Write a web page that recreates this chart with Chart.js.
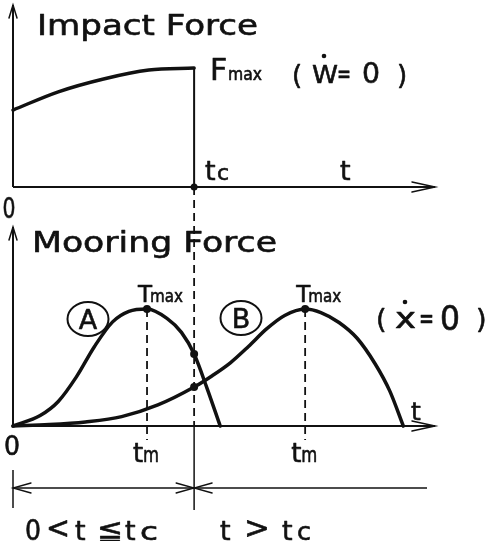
<!DOCTYPE html>
<html>
<head>
<meta charset="utf-8">
<style>
  html, body { margin: 0; padding: 0; background: #fff; }
  canvas { display: block; }
</style>
<script src="https://cdn.jsdelivr.net/npm/chart.js@4.4.1/dist/chart.umd.min.js"></script>
</head>
<body>
<canvas id="c" width="489" height="541"></canvas>
<script>
// Time axis: t = 0 .. T_END, contact ends at TC
const TC = 1.0;
const T_END = 2.33;

// Impact force during contact (normalised by Fmax)
const impactT = [0, 0.25, 0.5, 0.75, 1.0];
const impactF = [0.647, 0.80, 0.908, 0.983, 1.0];

// Mooring force, case A: peak reached before tc (normalised by Tmax)
const tmA = 0.74;
const tA = [0, 0.15, 0.25, 0.35, 0.45, 0.55, 0.64, 0.74, 0.85, 0.93, 1.0, 1.072, 1.144];
const forceA = [0, 0.09, 0.21, 0.42, 0.68, 0.89, 0.98, 1.0, 0.92, 0.80, 0.615, 0.32, 0];

// Mooring force, case B: peak reached after tc
const tmB = 1.613;
const tB = [0, 0.2, 0.4, 0.6, 0.8, 1.0, 1.1, 1.2, 1.3, 1.4, 1.5, 1.613,
            1.7, 1.8, 1.9, 2.0, 2.08, 2.155];
const forceB = [0, 0.012, 0.035, 0.08, 0.18, 0.333, 0.43, 0.54, 0.68, 0.83, 0.945, 1.0,
                0.97, 0.885, 0.75, 0.53, 0.30, 0];

// Axis / region labels
const topTitle = 'Impact Force';
const bottomTitle = 'Mooring Force';
const caseLabels = ['A', 'B'];

const INK = '#111';
const FONT = '"DejaVu Sans", "Noto Sans", sans-serif';
const H = 541;

// Each panel gets its own y scale; place its zero and unit lines
function yRange(pxZero, pxOne) {
  const k = pxZero - pxOne;
  return { min: -(H - pxZero) / k, max: pxZero / k };
}
const rF = yRange(187, 68);
const rT = yRange(426, 309);

const pts = (xs, ys) => xs.map((x, i) => ({ x, y: ys[i] }));
const at = (xs, ys, t) => ys[xs.indexOf(t)];

function curve(data, yAxisID, width) {
  return {
    data, yAxisID, showLine: true, pointRadius: 0,
    borderColor: INK, borderWidth: width, cubicInterpolationMode: 'monotone',
    borderCapStyle: 'round', borderJoinStyle: 'round', clip: false
  };
}

function text(ctx, s, x, y, size, width, align) {
  ctx.save();
  ctx.font = size + 'px ' + FONT;
  ctx.fillStyle = INK;
  ctx.strokeStyle = INK;
  ctx.lineJoin = 'round';
  ctx.lineWidth = 0.6;
  ctx.textBaseline = 'alphabetic';
  const w = ctx.measureText(s).width;
  let sx = 1;
  if (width) sx = width / w;
  let left = x;
  if (align === 'center') left = x - (w * sx) / 2;
  ctx.translate(left, y);
  ctx.scale(sx, 1);
  ctx.fillText(s, 0, 0);
  ctx.strokeText(s, 0, 0);
  ctx.restore();
}

function line(ctx, x1, y1, x2, y2, w, dash) {
  ctx.save();
  ctx.strokeStyle = INK;
  ctx.lineWidth = w;
  ctx.setLineDash(dash || []);
  ctx.beginPath();
  ctx.moveTo(x1, y1);
  ctx.lineTo(x2, y2);
  ctx.stroke();
  ctx.restore();
}

// open "V" arrowhead with its tip at (x, y) pointing along (dx, dy)
function arrow(ctx, x, y, dx, dy, len, half, w) {
  const nx = -dy, ny = dx;
  ctx.save();
  ctx.strokeStyle = INK;
  ctx.lineWidth = w;
  ctx.lineCap = 'round';
  ctx.beginPath();
  ctx.moveTo(x - dx * len + nx * half, y - dy * len + ny * half);
  ctx.lineTo(x, y);
  ctx.lineTo(x - dx * len - nx * half, y - dy * len - ny * half);
  ctx.stroke();
  ctx.restore();
}

function dot(ctx, x, y, r) {
  ctx.save();
  ctx.fillStyle = INK;
  ctx.beginPath();
  ctx.arc(x, y, r, 0, Math.PI * 2);
  ctx.fill();
  ctx.restore();
}

const axesPlugin = {
  id: 'axesPlugin',
  beforeDatasetsDraw(chart) {
    const { ctx } = chart;
    const X = v => chart.scales.x.getPixelForValue(v);
    const YF = v => chart.scales.yF.getPixelForValue(v);
    const YT = v => chart.scales.yT.getPixelForValue(v);
    const x0 = X(0), xe = X(T_END);

    // upper panel axes
    line(ctx, x0, YF(0), x0, 5, 2);
    arrow(ctx, x0, 5, 0, -1, 13, 4, 1.5);
    line(ctx, x0, YF(0), xe, YF(0), 2);
    arrow(ctx, xe, YF(0), 1, 0, 23, 5, 1.5);

    // lower panel axes
    line(ctx, x0, YT(0), x0, 227, 2);
    arrow(ctx, x0, 227, 0, -1, 13, 4, 1.5);
    line(ctx, x0, YT(0), xe, YT(0), 2);
    arrow(ctx, xe, YT(0), 1, 0, 23, 5, 1.5);

    // contact end tc, through both panels
    line(ctx, X(TC), YF(0), X(TC), YT(0), 1.8, [8, 5]);
    line(ctx, X(TC), YT(0), X(TC), 510, 1.5);

    // peak times
    line(ctx, X(tmA), YT(1), X(tmA), YT(0) + 14, 1.8, [8, 5]);
    line(ctx, X(tmB), YT(1), X(tmB), YT(0) + 14, 1.8, [8, 5]);

    // time ranges below the lower axis
    const yd = 488;
    line(ctx, x0, 470, x0, 508, 1.5);
    line(ctx, x0, yd, 427, yd, 1.5);
    arrow(ctx, x0, yd, -1, 0, 18, 5, 1.3);
    arrow(ctx, X(TC), yd, 1, 0, 18, 5, 1.3);
    arrow(ctx, X(TC), yd, -1, 0, 18, 5, 1.3);
  },
  afterDatasetsDraw(chart) {
    const { ctx } = chart;
    const X = v => chart.scales.x.getPixelForValue(v);
    const YF = v => chart.scales.yF.getPixelForValue(v);
    const YT = v => chart.scales.yT.getPixelForValue(v);

    // marked points
    dot(ctx, X(TC), YF(0), 3.5);
    dot(ctx, X(tmA), YT(1), 4);
    dot(ctx, X(tmB), YT(1), 4);
    dot(ctx, X(TC), YT(at(tA, forceA, TC)), 4);
    dot(ctx, X(TC), YT(at(tB, forceB, TC)), 4);

    // upper panel text
    text(ctx, topTitle, 37, 35, 28, 221);
    text(ctx, 'F', X(TC) + 16, YF(1) + 12, 30);
    text(ctx, 'max', 228, YF(1) + 12, 17, 34);
    text(ctx, '(', 292, 84, 26);
    text(ctx, 'W', 312, 83, 25, 26);
    dot(ctx, 324, 56, 2.3);
    text(ctx, '=', 337, 83, 26, 14);
    text(ctx, '0', 362, 83, 28, 18);
    text(ctx, ')', 397, 84, 26);
    text(ctx, 't', X(TC) + 11, YF(0) - 7, 27);
    text(ctx, 'c', 217, YF(0) - 7, 22);
    text(ctx, 't', 340, YF(0) - 7, 27);
    text(ctx, '0', 9, 218, 28, 13, 'center');

    // lower panel text
    text(ctx, bottomTitle, 32, 252, 28, 245);
    [[88, 319, caseLabels[0]], [241, 318, caseLabels[1]]].forEach(([cx, cy, s]) => {
      ctx.save();
      ctx.strokeStyle = INK;
      ctx.lineWidth = 2;
      ctx.beginPath();
      ctx.ellipse(cx, cy, 20.5, 17, 0, 0, Math.PI * 2);
      ctx.stroke();
      ctx.restore();
      text(ctx, s, cx, cy + 10, 27, null, 'center');
    });
    [tmA, tmB].forEach(tm => {
      text(ctx, 'T', X(tm) - 9, YT(1) - 7, 23);
      text(ctx, 'max', X(tm) + 3, YT(1) - 7, 18, 33);
      text(ctx, 't', X(tm) - 14, 462, 26);
      text(ctx, 'm', X(tm) - 4, 462, 21, 16);
    });
    text(ctx, '(', 376, 328, 27);
    text(ctx, 'x', 395, 328, 29, 21);
    dot(ctx, 405, 302, 2.3);
    text(ctx, '=', 419, 328, 29, 15);
    text(ctx, '0', 440, 330, 33, 20);
    text(ctx, ')', 476, 328, 27);
    text(ctx, 't', 411, 420, 25);
    text(ctx, '0', 12, 455, 27, 16, 'center');

    // range captions
    text(ctx, '0', 25, 540, 28, 16);
    text(ctx, '<', 46, 538, 30, 24);
    text(ctx, 't', 75, 540, 27);
    text(ctx, '≦', 97, 540, 28, 26);
    text(ctx, 't', 125, 540, 27);
    text(ctx, 'c', 140, 540, 24, 18);
    text(ctx, 't', 220, 540, 27);
    text(ctx, '>', 244, 538, 30, 26);
    text(ctx, 't', 282, 540, 27);
    text(ctx, 'c', 297, 540, 24, 14);
  }
};

new Chart(document.getElementById('c'), {
  type: 'scatter',
  data: {
    datasets: [
      curve(pts(impactT, impactF), 'yF', 3.5),
      { ...curve([{ x: TC, y: 1 }, { x: TC, y: 0 }], 'yF', 2), cubicInterpolationMode: 'default', tension: 0 },
      curve(pts(tA, forceA), 'yT', 3.5),
      curve(pts(tB, forceB), 'yT', 3.5)
    ]
  },
  options: {
    responsive: false,
    animation: false,
    events: [],
    layout: { padding: { left: 13, right: 54, top: 0, bottom: 0 } },
    plugins: { legend: { display: false }, tooltip: { enabled: false }, title: { display: false } },
    scales: {
      x: { type: 'linear', min: 0, max: T_END, display: false },
      yF: { type: 'linear', position: 'left', min: rF.min, max: rF.max, display: false },
      yT: { type: 'linear', position: 'left', min: rT.min, max: rT.max, display: false }
    }
  },
  plugins: [axesPlugin]
});
</script>
</body>
</html>
